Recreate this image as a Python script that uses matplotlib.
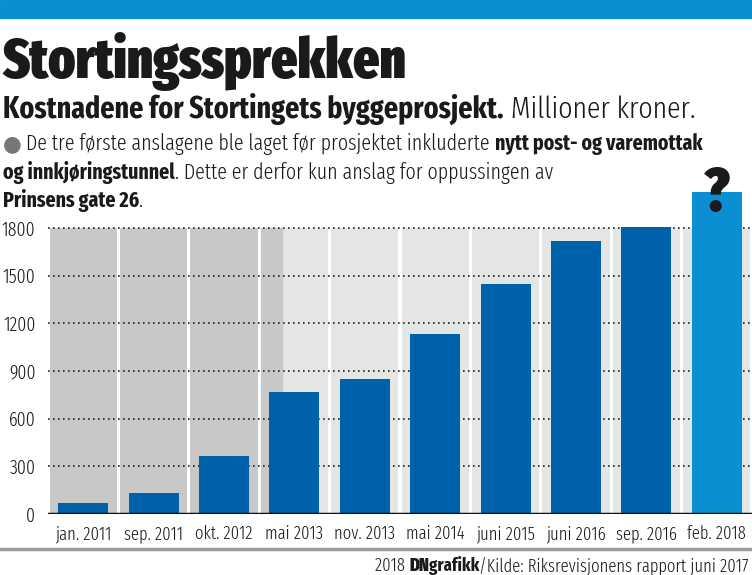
import matplotlib
matplotlib.use('Agg')
import matplotlib.pyplot as plt
from matplotlib import font_manager as fm
from matplotlib.lines import Line2D
from matplotlib.patches import Rectangle

# Data -------------------------------------------------------------------

categories = ['jan. 2011', 'sep. 2011', 'okt. 2012', 'mai 2013', 'nov. 2013',
              'mai 2014', 'juni 2015', 'juni 2016', 'sep. 2016', 'feb. 2018']
values = [70, 135, 365, 770, 850, 1135, 1445, 1720, 1805, 2025]
yticks = [0, 300, 600, 900, 1200, 1500, 1800]

#-------------------------------------------------------------------------

# Pick a condensed font that is installed
available = {f.name for f in fm.fontManager.ttflist}
wanted = ['Fira Sans Extra Condensed', 'Fira Sans Condensed', 'Roboto Condensed',
          'Barlow Semi Condensed', 'Barlow Condensed', 'PT Sans Narrow',
          'Archivo Narrow', 'Liberation Sans Narrow', 'Noto Sans']
FONT = next((f for f in wanted if f in available), 'DejaVu Sans')
plt.rcParams['font.family'] = [FONT, 'DejaVu Sans']

dark_blue = '#0061ab'
light_blue = '#0a90d2'
top_blue = '#0a90d2'
dark_grey = '#c8c8c8'
light_grey = '#e4e6e6'
text_col = '#1a1a1a'
LIGHT = 300

fig = plt.figure(figsize=(7.52, 5.75), dpi=100)
W, H = 752, 575
renderer = fig.canvas.get_renderer()

def fx(px):
    return px / W

def fy(py):
    return 1 - py / H

# Top band
fig.patches.append(Rectangle((0, fy(18)), 1, 18 / H, transform=fig.transFigure,
                             color=top_blue, zorder=0))

# Rich text helper: draw parts one after another on one line.
# If target (pixels) is given, the font size is scaled to reach that width.
def rich_line(x, y, parts, size, ha='left', target=None):
    texts = [fig.text(0, y, s, fontsize=size, fontweight=w, color=c, va='baseline')
             for s, w, c in parts]
    def widths():
        return [t.get_window_extent(renderer).width for t in texts]
    if target:
        size = size * target / sum(widths())
        for t in texts:
            t.set_fontsize(size)
    ws = [w / W for w in widths()]
    if ha == 'right':
        x = x - sum(ws)
    for t, w in zip(texts, ws):
        t.set_x(x)
        x += w
    return size

rich_line(fx(2), fy(78), [('Stortingssprekken', 'black', text_col)], 42, target=405)

rich_line(fx(3), fy(118), [('Kostnadene for Stortingets byggeprosjekt.', 'bold', text_col),
                           (' Millioner kroner.', LIGHT, text_col)], 19, target=692)

note_size = rich_line(fx(3), fy(150), [('\u25CF ', 'normal', '#777777'),
                           ('De tre første anslagene ble laget før prosjektet inkluderte ', LIGHT, text_col),
                           ('nytt post- og varemottak', 'bold', text_col)], 15, target=697)
rich_line(fx(3), fy(179), [('og innkjøringstunnel', 'bold', text_col),
                           ('. Dette er derfor kun anslag for oppussingen av', LIGHT, text_col)], note_size)
rich_line(fx(3), fy(207), [('Prinsens gate 26', 'bold', text_col),
                           ('.', LIGHT, text_col)], note_size)

# Chart ------------------------------------------------------------------

ymax = 2100
y0_px, y1800_px = 514, 228
top_px = y0_px - ymax * (y0_px - y1800_px) / 1800
ax = fig.add_axes([fx(48), fy(y0_px), 1 - fx(48), (y0_px - top_px) / H])
ax.set_xlim(-0.5, len(categories) - 0.5)
ax.set_ylim(0, ymax)
for s in ax.spines.values():
    s.set_visible(False)

x = list(range(len(categories)))

# Background columns
col_w = 0.955
ax.bar(x, [1800] * len(x), width=col_w, color=light_grey, zorder=0)
ax.bar(x[:3], [1800] * 3, width=col_w, color=dark_grey, zorder=0.5)
left4 = 2.5 + (1 - col_w) / 2
ax.add_patch(Rectangle((left4, 0), 2.82 - left4, 1800, color=dark_grey, zorder=0.5))

# Gridlines
for yv in yticks[1:]:
    ax.axhline(yv, color='#222222', linestyle=(0, (1, 2)), linewidth=1.2, zorder=1)

# Bars
colors = [dark_blue] * (len(x) - 1) + [light_blue]
ax.bar(x, values, width=0.71, color=colors, zorder=2)
ax.axhline(0, color='#111111', linewidth=2.5, zorder=3)

ax.text(x[-1], 1905, '?', ha='center', va='baseline', fontsize=44,
        fontweight='black', color='#1a1a1a', zorder=4)

ax.set_yticks(yticks)
ax.set_yticklabels([str(v) for v in yticks], fontsize=14, color=text_col,
                   fontweight=LIGHT)
ax.set_xticks(x)
ax.set_xticklabels(categories, fontsize=13, color=text_col, fontweight=LIGHT)
ax.tick_params(axis='both', length=0)
ax.tick_params(axis='y', pad=9)
ax.tick_params(axis='x', pad=8)

# Footer
fig.add_artist(Line2D([0, 1], [fy(549), fy(549)], transform=fig.transFigure,
                      color='#9a9a9a', linewidth=2.5))
rich_line(fx(749), fy(571), [('2018 ', LIGHT, text_col),
                             ('DN', 'black', text_col),
                             ('grafikk', 'bold', text_col),
                             ('/Kilde: Riksrevisjonens rapport juni 2017', LIGHT, text_col)], 15,
          ha='right', target=372)

plt.savefig('out.png', dpi=100)
